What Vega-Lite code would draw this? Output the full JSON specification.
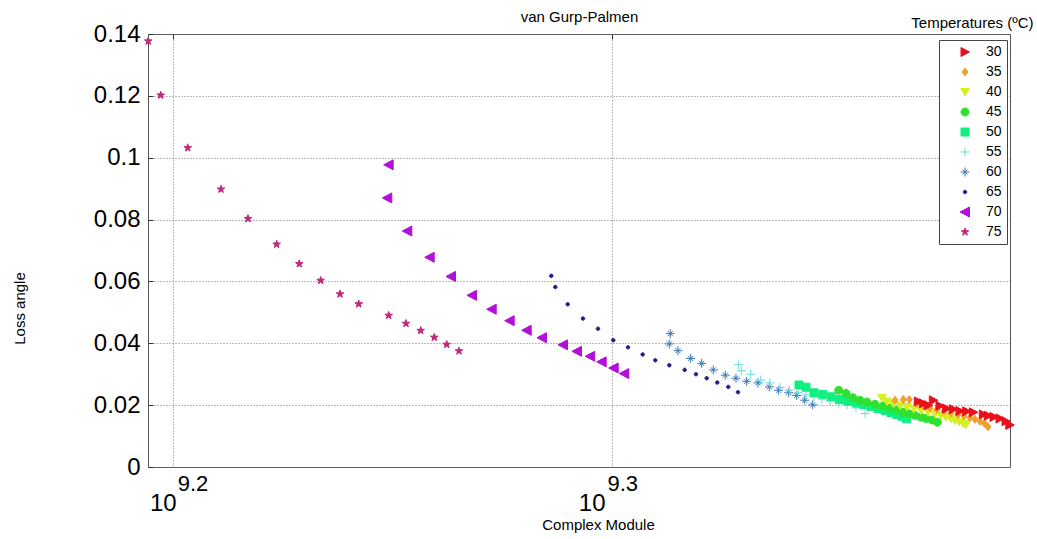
{
  "$schema": "https://vega.github.io/schema/vega-lite/v6.json",
  "autosize": {"type": "none"},
  "width": 862,
  "height": 433,
  "padding": {"left": 148, "top": 34, "right": 27, "bottom": 72},
  "background": "white",
  "config": {
    "font": "Liberation Sans",
    "view": {"stroke": "#555", "strokeWidth": 1},
    "axis": {"labelFont": "Liberation Sans", "titleFont": "Liberation Sans", "labelColor": "#000", "titleColor": "#000", "domain": false, "labelFlush": false, "labelOverlap": false, "labelBound": false}
  },
  "data": {"values": [
    {"T":"75","G":1.5647e9,"d":0.1377},{"T":"75","G":1.57495e9,"d":0.1202},{"T":"75","G":1.5974e9,"d":0.1032},{"T":"75","G":1.62552e9,"d":0.0898},
    {"T":"75","G":1.64869e9,"d":0.0803},{"T":"75","G":1.67367e9,"d":0.0720},{"T":"75","G":1.69362e9,"d":0.0657},{"T":"75","G":1.71272e9,"d":0.0603},
    {"T":"75","G":1.73013e9,"d":0.0559},{"T":"75","G":1.74717e9,"d":0.0527},{"T":"75","G":1.77486e9,"d":0.0490},{"T":"75","G":1.79103e9,"d":0.0464},
    {"T":"75","G":1.80488e9,"d":0.0441},{"T":"75","G":1.81779e9,"d":0.0419},{"T":"75","G":1.82964e9,"d":0.0396},{"T":"75","G":1.84147e9,"d":0.0375},
    {"T":"70","G":1.77486e9,"d":0.0977},{"T":"70","G":1.77356e9,"d":0.0870},{"T":"70","G":1.79225e9,"d":0.0763},{"T":"70","G":1.81342e9,"d":0.0678},
    {"T":"70","G":1.83377e9,"d":0.0616},{"T":"70","G":1.85406e9,"d":0.0555},{"T":"70","G":1.87331e9,"d":0.0510},{"T":"70","G":1.89106e9,"d":0.0473},
    {"T":"70","G":1.90799e9,"d":0.0442},{"T":"70","G":1.92335e9,"d":0.0418},{"T":"70","G":1.94464e9,"d":0.0395},{"T":"70","G":1.95896e9,"d":0.0374},
    {"T":"70","G":1.97266e9,"d":0.0358},{"T":"70","G":1.98448e9,"d":0.0340},{"T":"70","G":1.99700e9,"d":0.0320},{"T":"70","G":2.00813e9,"d":0.0302},
    {"T":"65","G":1.93275e9,"d":0.0618},{"T":"65","G":1.93680e9,"d":0.0582},{"T":"65","G":1.94943e9,"d":0.0526},{"T":"65","G":1.96511e9,"d":0.0480},
    {"T":"65","G":1.98064e9,"d":0.0447},{"T":"65","G":1.99658e9,"d":0.0410},{"T":"65","G":2.01203e9,"d":0.0387},{"T":"65","G":2.02759e9,"d":0.0364},
    {"T":"65","G":2.04102e9,"d":0.0345},{"T":"65","G":2.05605e9,"d":0.0329},{"T":"65","G":2.07272e9,"d":0.0314},{"T":"65","G":2.08503e9,"d":0.0300},
    {"T":"65","G":2.09676e9,"d":0.0287},{"T":"65","G":2.10844e9,"d":0.0273},{"T":"65","G":2.12063e9,"d":0.0259},{"T":"65","G":2.13143e9,"d":0.0242},
    {"T":"60","G":2.05713e9,"d":0.0431},{"T":"60","G":2.05605e9,"d":0.0398},{"T":"60","G":2.06545e9,"d":0.0376},{"T":"60","G":2.07925e9,"d":0.0351},
    {"T":"60","G":2.09127e9,"d":0.0335},{"T":"60","G":2.10402e9,"d":0.0314},{"T":"60","G":2.11730e9,"d":0.0297},{"T":"60","G":2.12920e9,"d":0.0287},
    {"T":"60","G":2.14118e9,"d":0.0277},{"T":"60","G":2.15390e9,"d":0.0272},{"T":"60","G":2.16669e9,"d":0.0259},{"T":"60","G":2.17739e9,"d":0.0248},
    {"T":"60","G":2.18883e9,"d":0.0240},{"T":"60","G":2.19803e9,"d":0.0231},{"T":"60","G":2.20727e9,"d":0.0216},{"T":"60","G":2.21654e9,"d":0.0201},
    {"T":"55","G":2.13225e9,"d":0.0331},{"T":"55","G":2.13516e9,"d":0.0311},{"T":"55","G":2.14571e9,"d":0.0300},{"T":"55","G":2.15698e9,"d":0.0281},
    {"T":"55","G":2.16752e9,"d":0.0272},{"T":"55","G":2.17891e9,"d":0.0257},{"T":"55","G":2.18956e9,"d":0.0249},{"T":"55","G":2.19956e9,"d":0.0240},
    {"T":"55","G":2.20880e9,"d":0.0233},{"T":"55","G":2.21809e9,"d":0.0227},{"T":"55","G":2.22741e9,"d":0.0220},{"T":"55","G":2.23677e9,"d":0.0214},
    {"T":"55","G":2.24699e9,"d":0.0207},{"T":"55","G":2.25679e9,"d":0.0201},{"T":"55","G":2.26746e9,"d":0.0191},{"T":"55","G":2.27818e9,"d":0.0173},
    {"T":"50","G":2.20072e9,"d":0.0265},{"T":"50","G":2.20880e9,"d":0.0258},{"T":"50","G":2.21809e9,"d":0.0240},{"T":"50","G":2.22822e9,"d":0.0235},
    {"T":"50","G":2.23829e9,"d":0.0227},{"T":"50","G":2.24769e9,"d":0.0218},{"T":"50","G":2.25797e9,"d":0.0213},{"T":"50","G":2.26829e9,"d":0.0207},
    {"T":"50","G":2.27699e9,"d":0.0202},{"T":"50","G":2.28535e9,"d":0.0196},{"T":"50","G":2.29375e9,"d":0.0189},{"T":"50","G":2.30218e9,"d":0.0183},
    {"T":"50","G":2.30943e9,"d":0.0176},{"T":"50","G":2.31670e9,"d":0.0170},{"T":"50","G":2.32279e9,"d":0.0164},{"T":"50","G":2.32851e9,"d":0.0156},
    {"T":"45","G":2.24699e9,"d":0.0248},{"T":"45","G":2.25560e9,"d":0.0238},{"T":"45","G":2.26389e9,"d":0.0224},{"T":"45","G":2.27221e9,"d":0.0216},
    {"T":"45","G":2.28056e9,"d":0.0210},{"T":"45","G":2.29015e9,"d":0.0203},{"T":"45","G":2.29977e9,"d":0.0197},{"T":"45","G":2.30822e9,"d":0.0190},
    {"T":"45","G":2.31670e9,"d":0.0184},{"T":"45","G":2.32401e9,"d":0.0177},{"T":"45","G":2.33133e9,"d":0.0172},{"T":"45","G":2.33867e9,"d":0.0167},
    {"T":"45","G":2.34604e9,"d":0.0161},{"T":"45","G":2.35219e9,"d":0.0157},{"T":"45","G":2.35960e9,"d":0.0152},{"T":"45","G":2.36617e9,"d":0.0145},
    {"T":"40","G":2.29857e9,"d":0.0223},{"T":"40","G":2.30460e9,"d":0.0212},{"T":"40","G":2.31186e9,"d":0.0206},{"T":"40","G":2.32036e9,"d":0.0199},
    {"T":"40","G":2.32888e9,"d":0.0194},{"T":"40","G":2.33744e9,"d":0.0188},{"T":"40","G":2.34604e9,"d":0.0183},{"T":"40","G":2.35465e9,"d":0.0177},
    {"T":"40","G":2.36331e9,"d":0.0172},{"T":"40","G":2.37075e9,"d":0.0167},{"T":"40","G":2.37697e9,"d":0.0161},{"T":"40","G":2.38321e9,"d":0.0156},
    {"T":"40","G":2.38821e9,"d":0.0151},{"T":"40","G":2.39322e9,"d":0.0146},{"T":"40","G":2.39825e9,"d":0.0141},{"T":"40","G":2.40202e9,"d":0.0137},
    {"T":"35","G":2.31428e9,"d":0.0216},{"T":"35","G":2.32437e9,"d":0.0218},{"T":"35","G":2.33169e9,"d":0.0218},{"T":"35","G":2.34075e9,"d":0.0206},
    {"T":"35","G":2.34849e9,"d":0.0198},{"T":"35","G":2.35713e9,"d":0.0191},{"T":"35","G":2.36579e9,"d":0.0186},{"T":"35","G":2.37449e9,"d":0.0181},
    {"T":"35","G":2.38321e9,"d":0.0175},{"T":"35","G":2.39197e9,"d":0.0170},{"T":"35","G":2.39950e9,"d":0.0165},{"T":"35","G":2.40706e9,"d":0.0159},
    {"T":"35","G":2.41338e9,"d":0.0154},{"T":"35","G":2.41971e9,"d":0.0148},{"T":"35","G":2.42542e9,"d":0.0141},{"T":"35","G":2.42988e9,"d":0.0130},
    {"T":"30","G":2.34272e9,"d":0.0212},{"T":"30","G":2.34887e9,"d":0.0206},{"T":"30","G":2.35503e9,"d":0.0200},{"T":"30","G":2.36121e9,"d":0.0216},
    {"T":"30","G":2.36952e9,"d":0.0198},{"T":"30","G":2.37785e9,"d":0.0189},{"T":"30","G":2.38609e9,"d":0.0187},{"T":"30","G":2.39449e9,"d":0.0181},
    {"T":"30","G":2.40291e9,"d":0.0180},{"T":"30","G":2.41124e9,"d":0.0177},{"T":"30","G":2.42391e9,"d":0.0170},{"T":"30","G":2.43027e9,"d":0.0166},
    {"T":"30","G":2.43754e9,"d":0.0162},{"T":"30","G":2.44522e9,"d":0.0157},{"T":"30","G":2.45292e9,"d":0.0148},{"T":"30","G":2.45780e9,"d":0.0136}
  ]},
  "encoding": {
    "y": {
      "field": "d", "type": "quantitative",
      "scale": {"domain": [0, 0.14], "nice": false, "zero": false},
      "axis": {
        "values": [0, 0.02, 0.04, 0.06, 0.08, 0.1, 0.12, 0.14],
        "format": "~g", "labelFontSize": 24, "labelPadding": 13,
        "ticks": true, "tickSize": -5, "tickColor": "#333", "tickWidth": 1,
        "grid": true, "gridColor": "#777", "gridDash": [1, 2], "gridWidth": 1,
        "title": "Loss angle", "titleFontSize": 15, "titleFontWeight": "normal",
        "titleAngle": 270, "titleX": -121, "titleY": 274, "titleAlign": "center", "titleBaseline": "bottom"
      }
    }
  },
  "layer": [
    {
      "mark": {"type": "point", "filled": true, "opacity": 1, "size": 100, "strokeWidth": 1},
      "encoding": {
        "x": {
          "field": "G", "type": "quantitative",
          "scale": {"type": "log", "domain": [1.564503e9, 2.458063e9], "nice": false, "zero": false},
          "axis": {
            "orient": "bottom", "values": [1584893192, 1995262315], "labelExpr": "'10'",
            "labelFontSize": 24, "labelAlign": "right", "labelBaseline": "alphabetic", "labelPadding": 43,
            "labelOffset": {"condition": {"test": "datum.value < 1.8e9", "value": 3.5}, "value": -7},
            "ticks": false, "grid": true, "gridColor": "#777", "gridDash": [1, 2], "gridWidth": 1,
            "title": "Complex Module", "titleFontSize": 15, "titleFontWeight": "normal",
            "titleX": 450, "titleY": 62, "titleAlign": "center", "titleBaseline": "alphabetic"
          }
        },
        "color": {
          "field": "T", "type": "nominal",
          "scale": {"domain": ["30","35","40","45","50","55","60","65","70","75"],
                    "range": ["#e8101a","#f0a030","#d4f020","#30e030","#10f080","#66dddd","#3a78b8","#281c8c","#b010d8","#c0287e"]},
          "legend": {"title": null, "orient": "none", "legendX": 791, "legendY": 6, "padding": 5,
                     "strokeColor": "#444", "fillColor": "white", "labelFontSize": 14, "labelFont": "Liberation Sans",
                     "labelColor": "#000", "symbolSize": 100, "symbolOffset": 14, "labelOffset": 14, "rowPadding": 6,
                     "symbolStrokeWidth": 1}
        },
        "stroke": {
          "field": "T", "type": "nominal",
          "scale": {"domain": ["30","35","40","45","50","55","60","65","70","75"],
                    "range": ["#e8101a","#f0a030","#d4f020","#30e030","#10f080","#66dddd","#3a78b8","#281c8c","#b010d8","#c0287e"]},
          "legend": {"title": null}
        },
        "shape": {
          "field": "T", "type": "nominal",
          "scale": {"domain": ["30","35","40","45","50","55","60","65","70","75"],
                    "range": [
                      "M0.9,0L-0.8,-0.9L-0.8,0.9Z",
                      "M0,-0.8L0.6,0L0,0.8L-0.6,0Z",
                      "M-0.85,-0.7L0.85,-0.7L0,0.8Z",
                      "M0.8,0A0.8,0.8,0,1,1,-0.8,0A0.8,0.8,0,1,1,0.8,0Z",
                      "M-0.8,-0.8L0.8,-0.8L0.8,0.8L-0.8,0.8Z",
                      "M-0.9,0L0.9,0M0,-0.9L0,0.9",
                      "M-0.9,0L0.9,0M0,-0.9L0,0.9M-0.5,-0.5L0.5,0.5M-0.5,0.5L0.5,-0.5",
                      "M0.35,0A0.35,0.35,0,1,1,-0.35,0A0.35,0.35,0,1,1,0.35,0Z",
                      "M-1,0L0.9,-1L0.9,1Z",
                      "M0,-0.8L0.188,-0.259L0.761,-0.247L0.304,0.099L0.47,0.647L0,0.32L-0.47,0.647L-0.304,0.099L-0.761,-0.247L-0.188,-0.259Z"
                    ]},
          "legend": {"title": null}
        }
      }
    },
    {
      "mark": {"type": "point", "opacity": 0, "size": 1},
      "encoding": {
        "x": {
          "field": "G", "type": "quantitative",
          "scale": {"type": "log", "domain": [1.564503e9, 2.458063e9], "nice": false, "zero": false},
          "axis": {
            "orient": "bottom", "values": [1584893192, 1995262315],
            "labelExpr": "format(log(datum.value)/LN10, '.1f')",
            "labelFontSize": 22, "labelAlign": "left", "labelBaseline": "alphabetic", "labelPadding": 23,
            "labelOffset": {"condition": {"test": "datum.value < 1.8e9", "value": 4.5}, "value": -5},
            "ticks": false, "grid": false, "title": null
          }
        }
      }
    },
    {
      "mark": {"type": "point", "opacity": 0, "size": 1},
      "encoding": {
        "x": {
          "field": "G", "type": "quantitative",
          "scale": {"type": "log", "domain": [1.564503e9, 2.458063e9], "nice": false, "zero": false},
          "axis": {
            "orient": "top", "values": [1584893192, 1995262315], "labels": false,
            "ticks": true, "tickSize": -5, "tickColor": "#333", "grid": false,
            "title": "van Gurp-Palmen", "titleFontSize": 15, "titleFontWeight": "normal",
            "titleX": 431, "titleY": -13, "titleAlign": "center", "titleBaseline": "alphabetic"
          }
        }
      }
    },
    {
      "mark": {"type": "point", "opacity": 0, "size": 1},
      "encoding": {
        "x": {
          "field": "G", "type": "quantitative",
          "scale": {"type": "log", "domain": [1.564503e9, 2.458063e9], "nice": false, "zero": false},
          "axis": {
            "orient": "top", "values": [1584893192, 1995262315], "labels": false, "ticks": false, "grid": false,
            "title": "Temperatures (ºC)", "titleFontSize": 15, "titleFontWeight": "normal",
            "titleX": 885, "titleY": -7, "titleAlign": "right", "titleBaseline": "alphabetic"
          }
        }
      }
    }
  ],
  "resolve": {"axis": {"x": "independent"}}
}
